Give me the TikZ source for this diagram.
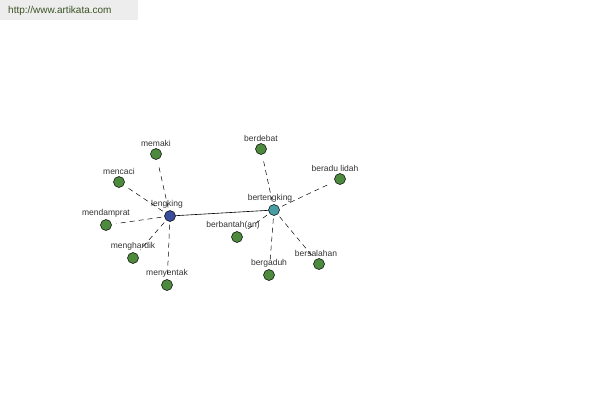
\documentclass[tikz,border=0pt]{standalone}
\usepackage{fontspec}
\setmainfont{Liberation Sans}
\definecolor{leafgreen}{HTML}{4E8A3E}
\definecolor{hubblue}{HTML}{3C4C9C}
\definecolor{hubteal}{HTML}{4A9CA4}
\definecolor{urlgreen}{HTML}{3B5323}
\definecolor{urlgray}{HTML}{EDEDED}

\tikzstyle{word} = [circle, draw=black, line width=0.5pt, minimum size=11pt, inner sep=0pt, fill=leafgreen]
\tikzstyle{hub} = [word, fill=hubblue]
\tikzstyle{lbl} = [font=\fontsize{8.5}{10}\selectfont, text=black!80, inner sep=1.5pt]
\tikzstyle{syn} = [dashed, dash pattern=on 5pt off 4pt, line width=0.5pt, shorten <=3pt, shorten >=5pt]

\begin{document}
\begin{tikzpicture}[x=1pt, y=-1pt]
\useasboundingbox (0,0) rectangle (600,400);
\fill[white] (0,0) rectangle (600,400);
% site banner
\fill[urlgray] (0,0) rectangle (138,20);
\node[anchor=west, text=urlgreen, font=\fontsize{10}{12}\selectfont, inner sep=0pt] (url) at (8,11) {http://www.artikata.com};

% hubs
\node[hub, label={[lbl, xshift=-3pt]above:lengking}] (lengking) at (170,216) {};
\node[hub, fill=hubteal, label={[lbl, xshift=-4pt]above:bertengking}] (bertengking) at (274,210) {};

% words around lengking
\node[word, label={[lbl]above:memaki}] (memaki) at (156,154) {};
\node[word, label={[lbl]above:mencaci}] (mencaci) at (119,182) {};
\node[word, label={[lbl]above:mendamprat}] (mendamprat) at (106,225) {};
\node[word, label={[lbl]above:menghardik}] (menghardik) at (133,258) {};
\node[word, label={[lbl]above:menyentak}] (menyentak) at (167,285) {};

% words around bertengking
\node[word, label={[lbl]above:berdebat}] (berdebat) at (261,149) {};
\node[word, label={[lbl, xshift=-5pt]above:beradu lidah}] (beradu) at (340,179) {};
\node[word, label={[lbl, xshift=-4pt]above:berbantah(an)}] (berbantah) at (237,237) {};
\node[word, label={[lbl]above:bergaduh}] (bergaduh) at (269,275) {};
\node[word, label={[lbl, xshift=-3pt]above:bersalahan}] (bersalahan) at (319,264) {};

\draw[line width=0.6pt] (lengking) -- (bertengking);
\foreach \w in {memaki, mencaci, mendamprat, menghardik, menyentak}
  \draw[syn] (lengking) -- (\w);
\foreach \w in {berdebat, beradu, berbantah, bergaduh, bersalahan}
  \draw[syn] (bertengking) -- (\w);
\end{tikzpicture}
\end{document}
